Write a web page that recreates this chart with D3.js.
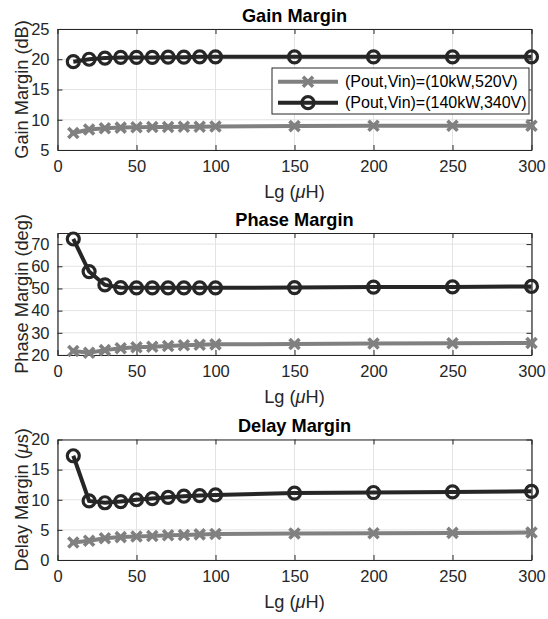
<!DOCTYPE html>
<html>
<head>
<meta charset="utf-8">
<script src="https://cdn.jsdelivr.net/npm/d3@7"></script>
<style>
  html, body { margin: 0; padding: 0; background: #fff; }
  svg { display: block; font-family: "Liberation Sans", Arial, Helvetica, sans-serif; }
</style>
</head>
<body>
<svg id="chart" width="548" height="619"></svg>
<script>
// ---- data ----
const lg = [10, 20, 30, 40, 50, 60, 70, 80, 90, 100, 150, 200, 250, 300];
const seriesNames = ["(Pout,Vin)=(10kW,520V)", "(Pout,Vin)=(140kW,340V)"];
const gainLow  = [7.8, 8.4, 8.6, 8.7, 8.75, 8.8, 8.8, 8.85, 8.85, 8.9, 8.95, 9.0, 9.0, 9.0];
const gainHigh = [19.6, 20.0, 20.2, 20.3, 20.3, 20.3, 20.35, 20.35, 20.4, 20.4, 20.4, 20.4, 20.4, 20.4];
const phaseLow  = [21.8, 21.0, 22.2, 23.0, 23.5, 23.7, 24.1, 24.4, 24.6, 24.8, 25.0, 25.2, 25.3, 25.4];
const phaseHigh = [72.3, 57.6, 51.6, 50.4, 50.3, 50.3, 50.3, 50.3, 50.3, 50.3, 50.4, 50.6, 50.7, 50.9];
const delayLow  = [2.9, 3.2, 3.6, 3.8, 3.9, 4.0, 4.1, 4.15, 4.25, 4.3, 4.4, 4.45, 4.5, 4.55];
const delayHigh = [17.3, 9.8, 9.5, 9.7, 10.0, 10.2, 10.4, 10.6, 10.7, 10.8, 11.1, 11.2, 11.3, 11.4];
const xTicks = [0, 50, 100, 150, 200, 250, 300];
const panels = [
  { title: "Gain Margin",  ylabel: ["Gain Margin (dB)"], yDomain: [5, 25], yTicks: [5, 10, 15, 20, 25], low: gainLow, high: gainHigh, legend: true },
  { title: "Phase Margin", ylabel: ["Phase Margin (deg)"], yDomain: [20, 75], yTicks: [20, 30, 40, 50, 60, 70], low: phaseLow, high: phaseHigh, legend: false },
  { title: "Delay Margin", ylabel: ["Delay Margin (", "μ", "s)"], yDomain: [0, 20], yTicks: [0, 5, 10, 15, 20], low: delayLow, high: delayHigh, legend: false }
];

// ---- layout ----
const boxes = [ {top: 29, bottom: 150}, {top: 233, bottom: 355}, {top: 439.5, bottom: 560} ];
const left = 57.5, right = 531.5;
const axisColor = "#262626", gridColor = "#e3e3e3";
const colLow = "#808080", colHigh = "#262626";
const tickFont = 16.5, labelFont = 18.2;

const svg = d3.select("#chart");
const x = d3.scaleLinear().domain([0, 300]).range([left, right]);

function xMarker(g, cx, cy, color) {
  const s = 5;
  g.append("path")
    .attr("d", `M${cx - s},${cy - s}L${cx + s},${cy + s}M${cx - s},${cy + s}L${cx + s},${cy - s}`)
    .attr("stroke", color).attr("stroke-width", 3.6).attr("fill", "none");
  g.append("path")
    .attr("d", `M${cx - 3},${cy}L${cx + 3},${cy}`)
    .attr("stroke", color).attr("stroke-width", 3).attr("fill", "none");
}

panels.forEach((p, i) => {
  const b = boxes[i];
  const y = d3.scaleLinear().domain(p.yDomain).range([b.bottom, b.top]);
  const g = svg.append("g");

  // background
  g.append("rect").attr("x", left).attr("y", b.top).attr("width", right - left).attr("height", b.bottom - b.top).attr("fill", "#fff");

  // grid
  const grid = g.append("g");
  xTicks.forEach(t => grid.append("line").attr("x1", x(t)).attr("x2", x(t)).attr("y1", b.top).attr("y2", b.bottom).attr("stroke", gridColor).attr("stroke-width", 1));
  p.yTicks.forEach(t => grid.append("line").attr("x1", left).attr("x2", right).attr("y1", y(t)).attr("y2", y(t)).attr("stroke", gridColor).attr("stroke-width", 1));

  // axes via d3 axis (inward ticks)
  const xb = d3.axisBottom(x).tickValues(xTicks).tickSizeInner(-5).tickSizeOuter(0).tickPadding(9).tickFormat(d3.format("d"));
  const gxb = g.append("g").attr("transform", `translate(0,${b.bottom})`).call(xb);
  const xt = d3.axisTop(x).tickValues(xTicks).tickSizeInner(-5).tickSizeOuter(0).tickFormat("");
  const gxt = g.append("g").attr("transform", `translate(0,${b.top})`).call(xt);
  const yl = d3.axisLeft(y).tickValues(p.yTicks).tickSizeInner(-5).tickSizeOuter(0).tickPadding(8).tickFormat(d3.format("d"));
  const gyl = g.append("g").attr("transform", `translate(${left},0)`).call(yl);
  const yr = d3.axisRight(y).tickValues(p.yTicks).tickSizeInner(-5).tickSizeOuter(0).tickFormat("");
  const gyr = g.append("g").attr("transform", `translate(${right},0)`).call(yr);
  [gxb, gxt, gyl, gyr].forEach(a => {
    a.select(".domain").attr("stroke", axisColor).attr("stroke-width", 1.2);
    a.selectAll(".tick line").attr("stroke", axisColor).attr("stroke-width", 1);
    a.selectAll(".tick text").attr("fill", axisColor).style("font-size", tickFont + "px").style("font-family", "'Liberation Sans', Arial, sans-serif");
  });
  gxb.selectAll(".tick text").attr("y", 10);

  // title
  g.append("text").attr("x", (left + right) / 2).attr("y", b.top - 13.5).attr("dy", "0.35em")
    .attr("text-anchor", "middle").style("font-size", labelFont + "px").style("font-weight", "bold")
    .attr("fill", "#000").text(p.title);

  // x label
  const xl = g.append("text").attr("x", (left + right) / 2).attr("y", b.bottom + 42).attr("dy", "0.35em")
    .attr("text-anchor", "middle").style("font-size", labelFont + "px").attr("fill", axisColor);
  xl.append("tspan").text("Lg (");
  xl.append("tspan").style("font-style", "italic").text("μ");
  xl.append("tspan").text("H)");

  // y label
  const ylab = g.append("text").attr("transform", `translate(22,${(b.top + b.bottom) / 2}) rotate(-90)`)
    .attr("dy", "0.35em").attr("text-anchor", "middle").style("font-size", labelFont + "px").attr("fill", axisColor);
  p.ylabel.forEach(s => {
    const ts = ylab.append("tspan").text(s);
    if (s === "μ") ts.style("font-style", "italic");
  });

  // lines
  const line = d3.line().x((d, j) => x(lg[j])).y(d => y(d));
  g.append("path").datum(p.low).attr("d", line).attr("fill", "none").attr("stroke", colLow).attr("stroke-width", 4);
  p.low.forEach((v, j) => xMarker(g, x(lg[j]), y(v), colLow));
  g.append("path").datum(p.high).attr("d", line).attr("fill", "none").attr("stroke", colHigh).attr("stroke-width", 4);
  g.selectAll(null).data(p.high).enter().append("circle")
    .attr("cx", (d, j) => x(lg[j])).attr("cy", d => y(d)).attr("r", 6)
    .attr("fill", "none").attr("stroke", colHigh).attr("stroke-width", 3.2);

  // legend
  if (p.legend) {
    const lx = 272, ly = 68, lw = 257, lh = 46;
    const lgG = g.append("g");
    lgG.append("rect").attr("x", lx).attr("y", ly).attr("width", lw).attr("height", lh)
      .attr("fill", "#fff").attr("stroke", axisColor).attr("stroke-width", 1);
    const rows = [ {name: seriesNames[0], col: colLow, mk: "x", yy: 81.7}, {name: seriesNames[1], col: colHigh, mk: "o", yy: 102.7} ];
    rows.forEach(r => {
      lgG.append("line").attr("x1", 278).attr("x2", 338).attr("y1", r.yy).attr("y2", r.yy).attr("stroke", r.col).attr("stroke-width", 4);
      if (r.mk === "x") xMarker(lgG, 308, r.yy, r.col);
      else lgG.append("circle").attr("cx", 308).attr("cy", r.yy).attr("r", 6).attr("fill", "none").attr("stroke", r.col).attr("stroke-width", 3.2);
      lgG.append("text").attr("x", 345).attr("y", r.yy).attr("dy", "0.35em").style("font-size", "16px").attr("fill", "#000").text(r.name);
    });
  }
});
</script>
</body>
</html>
